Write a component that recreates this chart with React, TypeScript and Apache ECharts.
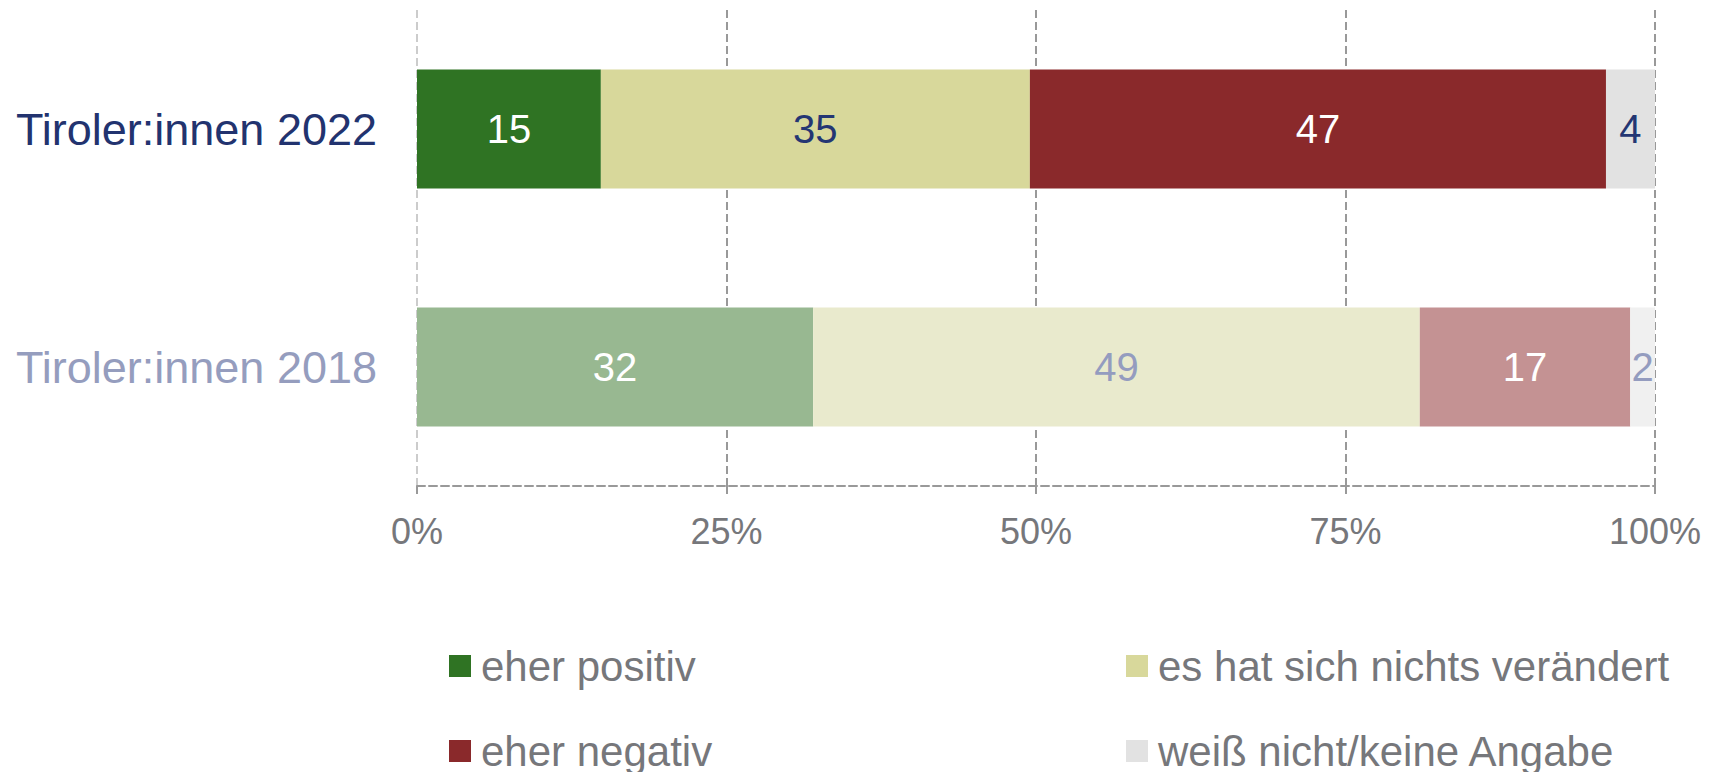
import React, { useEffect, useRef } from "react";
import * as echarts from "echarts";

const categories = ["Tiroler:innen 2022", "Tiroler:innen 2018"];
const categoryColors = ["#22336f", "#959dbe"];
const seriesNames = [
  "eher positiv",
  "es hat sich nichts verändert",
  "eher negativ",
  "weiß nicht/keine Angabe",
];
const values2022 = [15, 35, 47, 4];
const values2018 = [32, 49, 17, 2];
const colors2022 = ["#2f7323", "#d8d89b", "#8a292b", "#e2e2e2"];
const colors2018 = ["#98b891", "#e9eacd", "#c49293", "#f0f0f0"];
const labelColors2022 = ["#ffffff", "#243673", "#ffffff", "#243673"];
const labelColors2018 = ["#ffffff", "#949cbf", "#ffffff", "#949cbf"];
const tickLabels = ["0%", "25%", "50%", "75%", "100%"];

const FONT = "'Liberation Sans', Arial, Helvetica, sans-serif";

export default function App() {
  const ref = useRef<HTMLDivElement>(null);

  useEffect(() => {
    document.body.style.margin = "0";
    document.body.style.overflow = "hidden";
    if (!ref.current) return;
    const chart = echarts.init(ref.current, undefined, { renderer: "svg" });

    const total2022 = values2022.reduce((a, b) => a + b, 0);
    const total2018 = values2018.reduce((a, b) => a + b, 0);

    const series = seriesNames.map((name, i) => ({
      name,
      type: "bar",
      stack: "total",
      barWidth: "50%",
      color: colors2022[i],
      label: {
        show: true,
        position: "inside",
        fontSize: 40,
        fontFamily: FONT,
        formatter: (p: any) => String(p.data.raw),
      },
      data: [
        {
          value: (values2022[i] / total2022) * 100,
          raw: values2022[i],
          itemStyle: { color: colors2022[i] },
          label: { color: labelColors2022[i] },
        },
        {
          value: (values2018[i] / total2018) * 100,
          raw: values2018[i],
          itemStyle: { color: colors2018[i] },
          label: { color: labelColors2018[i] },
        },
      ],
    }));

    const legendText = {
      fontSize: 42,
      lineHeight: 42,
      color: "#76777b",
      fontFamily: FONT,
      padding: [0, 0, 0, 5],
    };
    const legendBase = {
      orient: "vertical",
      top: 645,
      height: 200,
      icon: "rect",
      itemWidth: 22,
      itemHeight: 22,
      itemGap: 43,
      padding: 0,
      selectedMode: false,
      textStyle: legendText,
    };

    chart.setOption({
      animation: false,
      textStyle: { fontFamily: FONT },
      grid: { left: 417, right: 64, top: 10, height: 476, containLabel: false },
      legend: [
        { ...legendBase, left: 449, data: [seriesNames[0], seriesNames[2]] },
        { ...legendBase, left: 1126, data: [seriesNames[1], seriesNames[3]] },
      ],
      xAxis: {
        type: "value",
        min: 0,
        max: 100,
        interval: 25,
        axisLine: {
          show: true,
          lineStyle: { color: "#999999", width: 2, type: [8, 4] },
        },
        axisTick: {
          show: true,
          length: 11,
          lineStyle: { color: "#999999", width: 2, type: [8, 4] },
        },
        splitLine: {
          show: true,
          lineStyle: {
            color: ["#cccccc", "#999999", "#999999", "#999999", "#999999"],
            width: 2,
            type: [8, 4],
          },
        },
        axisLabel: {
          fontSize: 36,
          color: "#76777b",
          fontFamily: FONT,
          margin: 27,
          formatter: (v: number) => tickLabels[Math.round(v / 25)] ?? "",
        },
      },
      yAxis: {
        type: "category",
        inverse: true,
        data: categories.map((c, i) => ({ value: c, textStyle: { color: categoryColors[i] } })),
        axisLine: { show: false },
        axisTick: { show: false },
        splitLine: { show: false },
        axisLabel: { fontSize: 45, fontFamily: FONT, margin: 40 },
      },
      series,
    });

    return () => chart.dispose();
  }, []);

  return <div ref={ref} style={{ width: 1719, height: 772 }} />;
}
